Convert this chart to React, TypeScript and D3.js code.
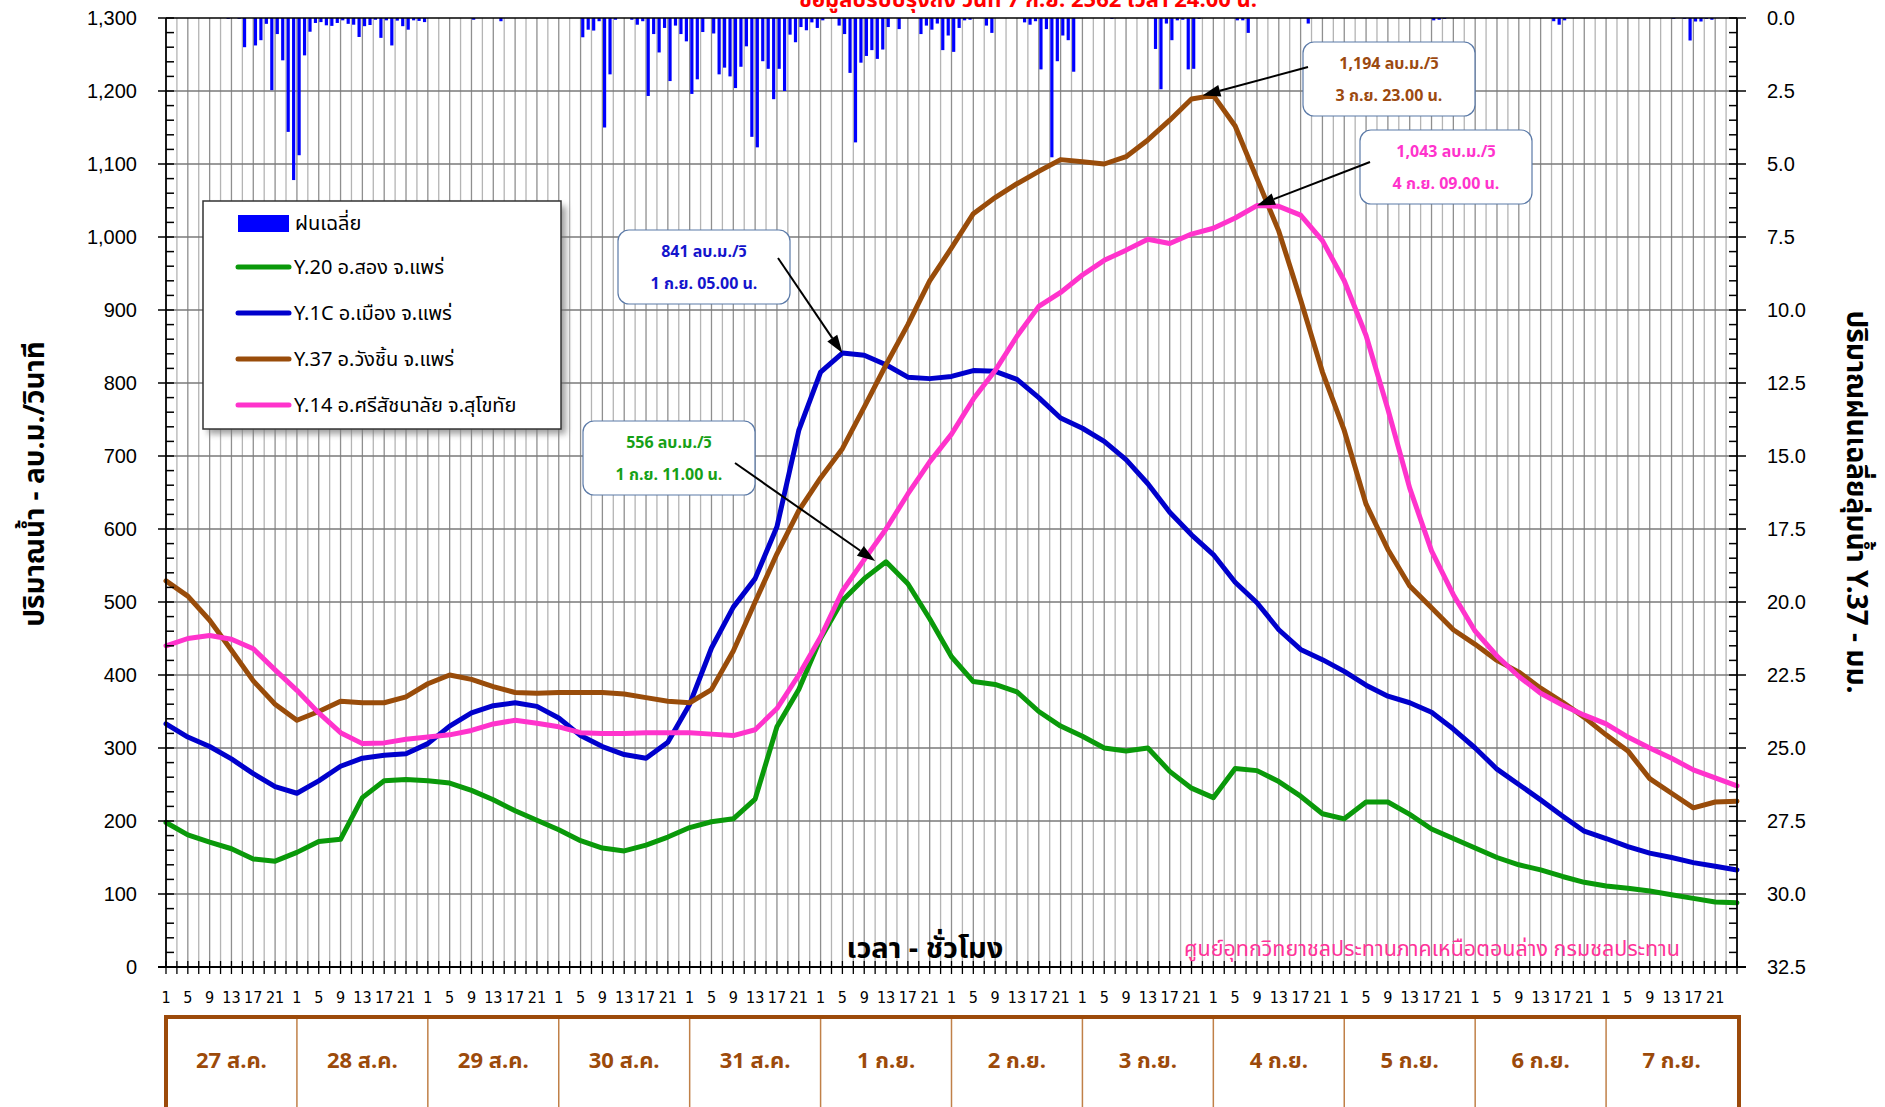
import React, { useEffect, useRef } from "react";
import * as d3 from "d3";

const WIDTH = 1885;
const HEIGHT = 1107;
const LEFT = 166;
const RIGHT = 1737;
const TOP = 18;
const BOTTOM = 967;

const THAI = "Tahoma, 'Noto Sans Thai', 'Leelawadee UI', 'Noto Sans', sans-serif";
const NARROW = "'Liberation Sans Narrow', 'Arial Narrow', 'DejaVu Sans Condensed', sans-serif";
const ARIAL = "'Liberation Sans', Arial, sans-serif";

const days = [
  "27 ส.ค.", "28 ส.ค.", "29 ส.ค.", "30 ส.ค.", "31 ส.ค.", "1 ก.ย.",
  "2 ก.ย.", "3 ก.ย.", "4 ก.ย.", "5 ก.ย.", "6 ก.ย.", "7 ก.ย.",
];
const hourTicks = [1, 5, 9, 13, 17, 21];

// flow (ลบ.ม./วิ) read every 4 hours from 27 ส.ค. 01.00 น.
const readEvery = 4;

const y20 = [
  198, 181, 171, 162, 148, 145, 157, 172, 175, 232,
  255, 257, 255, 252, 242, 229, 214, 201, 188, 173,
  163, 159, 167, 178, 191, 199, 203, 230, 329, 380,
  450, 502, 532, 555, 525, 477, 425, 391, 387, 377,
  350, 330, 316, 300, 296, 300, 268, 245, 232, 272,
  269, 254, 234, 210, 203, 226, 226, 209, 189, 176,
  163, 150, 140, 133, 124, 116, 111, 108, 104, 99,
  94, 89, 88,
];

const y1c = [
  333, 315, 302, 285, 265, 247, 238, 255, 275, 286,
  290, 292, 306, 330, 348, 358, 362, 357, 341, 317,
  302, 291, 286, 308, 360, 437, 493, 532, 603, 735,
  815, 841, 838, 825, 808, 806, 809, 817, 816, 805,
  780, 752, 738, 720, 695, 662, 623, 592, 565, 527,
  499, 462, 435, 421, 405, 386, 371, 362, 349, 326,
  300, 271, 250, 229, 207, 186, 176, 165, 156, 150,
  143, 138, 133,
];

const y37 = [
  529, 508, 475, 434, 392, 360, 338, 350, 364, 362,
  362, 370, 388, 400, 394, 384, 376, 375, 376, 376,
  376, 374, 369, 364, 362, 380, 433, 500, 566, 625,
  670, 710, 767, 825, 880, 940, 985, 1032, 1054, 1073,
  1090, 1106, 1103, 1100, 1110, 1133, 1160, 1189, 1194, 1152,
  1080, 1008, 914, 815, 735, 634, 572, 522, 492, 462,
  442, 420, 404, 382, 363, 342, 318, 296, 258, 238,
  218, 226, 227,
];

const y14 = [
  440, 450, 454, 449, 436, 407, 379, 348, 321, 306,
  307, 312, 315, 318, 324, 333, 338, 334, 329, 321,
  320, 320, 321, 321, 321, 319, 317, 325, 354, 400,
  452, 515, 558, 600, 648, 692, 730, 778, 817, 864,
  905, 924, 948, 968, 982, 997, 991, 1004, 1012, 1026,
  1043, 1042, 1030, 995, 940, 865, 764, 656, 570, 510,
  460, 426, 398, 375, 359, 345, 333, 315, 300, 286,
  270, 259, 248,
];

// average basin rainfall (มม.): [hour from 27 ส.ค. 01.00 น., mm]
const rainfall: [number, number][] = [
  [11, 0.03], [13, 0.03], [14, 1.0], [16, 0.94], [17, 0.76], [18, 0.2], [19, 2.47],
  [20, 0.55], [21, 1.45], [22, 3.9], [23, 5.55], [24, 4.7], [25, 1.28], [26, 0.47],
  [27, 0.17], [28, 0.14], [29, 0.25], [30, 0.27], [31, 0.17], [32, 0.08], [33, 0.2],
  [34, 0.23], [35, 0.65], [36, 0.28], [37, 0.24], [38, 0.06], [39, 0.68], [40, 0.08],
  [41, 0.94], [42, 0.09], [43, 0.28], [44, 0.4], [45, 0.08], [46, 0.1], [47, 0.14],
  [56, 0.06], [61, 0.11], [76, 0.66], [77, 0.4], [78, 0.43], [79, 0.11], [80, 3.75],
  [81, 1.93], [82, 0.06], [85, 0.06], [86, 0.23], [87, 0.11], [88, 2.67], [89, 0.55],
  [90, 1.18], [91, 0.34], [92, 2.16], [93, 0.26], [94, 0.55], [95, 0.8], [96, 2.6],
  [97, 2.1], [98, 0.48], [100, 0.53], [101, 1.93], [102, 1.7], [103, 2.0], [104, 2.4],
  [105, 1.67], [106, 0.97], [107, 4.07], [108, 4.43], [109, 1.48], [110, 1.74], [111, 2.78],
  [112, 1.74], [113, 2.5], [114, 0.57], [115, 0.83], [116, 0.31], [117, 0.42], [118, 0.15],
  [119, 0.34], [120, 0.08], [123, 0.26], [124, 0.55], [125, 1.88], [126, 4.26], [127, 1.53],
  [128, 1.3], [129, 1.1], [130, 1.4], [131, 1.08], [132, 0.31], [134, 0.38], [138, 0.55],
  [139, 0.26], [140, 0.4], [141, 0.19], [142, 1.1], [143, 0.6], [144, 1.16], [145, 0.34],
  [146, 0.08], [147, 0.06], [150, 0.26], [151, 0.51], [157, 0.15], [158, 0.23], [159, 0.11],
  [160, 1.76], [161, 0.38], [162, 4.77], [163, 1.48], [164, 0.6], [165, 0.76], [166, 1.84],
  [173, 0.03], [181, 1.06], [182, 2.44], [183, 0.19], [184, 0.76], [185, 0.08], [186, 0.06],
  [187, 1.76], [188, 1.74], [189, 0.03], [196, 0.08], [197, 0.08], [198, 0.51], [209, 0.19],
  [232, 0.08], [233, 0.06], [234, 0.03], [254, 0.11], [255, 0.23], [256, 0.08], [276, 0.03],
  [278, 0.03], [279, 0.77], [280, 0.12], [281, 0.12], [282, 0.03], [283, 0.06],
];

const stations = [
  { name: "Y.20 อ.สอง จ.แพร่", color: "#0A990A", values: y20 },
  { name: "Y.1C อ.เมือง จ.แพร่", color: "#0000CC", values: y1c },
  { name: "Y.37 อ.วังชิ้น จ.แพร่", color: "#994C0A", values: y37 },
  { name: "Y.14 อ.ศรีสัชนาลัย จ.สุโขทัย", color: "#FF33CC", values: y14 },
];

// peak callouts: hour from 27 ส.ค. 01.00 น.
const peaks = [
  { hour: 124, flow: 841, label: "841 ลบ.ม./วิ", time: "1 ก.ย. 05.00 น.", color: "#1414CC", box: [618, 230], tail: [778, 258] },
  { hour: 130, flow: 556, label: "556 ลบ.ม./วิ", time: "1 ก.ย.  11.00 น.", color: "#16A016", box: [583, 421], tail: [735, 463] },
  { hour: 190, flow: 1194, label: "1,194 ลบ.ม./วิ", time: "3 ก.ย. 23.00 น.", color: "#9C4A10", box: [1303, 42], tail: [1308, 67] },
  { hour: 200, flow: 1043, label: "1,043 ลบ.ม./วิ", time: "4 ก.ย. 09.00 น.", color: "#FF33CC", box: [1360, 130], tail: [1370, 162] },
];

export default function App() {
  const ref = useRef<SVGSVGElement>(null);

  useEffect(() => {
    if (!ref.current) return;
    const svg = d3.select(ref.current);
    svg.selectAll("*").remove();

    const x = d3.scaleLinear().domain([0, 288]).range([LEFT, RIGHT]);
    const y = d3.scaleLinear().domain([0, 1300]).range([BOTTOM, TOP]);
    const rain = d3.scaleLinear().domain([0, 32.5]).range([TOP, BOTTOM]);

    svg.append("rect").attr("width", WIDTH).attr("height", HEIGHT).attr("fill", "#fff");

    const filter = svg.append("defs").append("filter").attr("id", "shadow")
      .attr("x", "-10%").attr("y", "-10%").attr("width", "130%").attr("height", "130%");
    filter.append("feGaussianBlur").attr("stdDeviation", 3);

    // grid
    const grid = svg.append("g");
    grid.selectAll(".vgrid")
      .data(d3.range(2, 288, 2))
      .join("line")
      .attr("class", "vgrid")
      .attr("x1", (d) => x(d)).attr("x2", (d) => x(d))
      .attr("y1", TOP).attr("y2", BOTTOM)
      .attr("stroke", (d) => (d % 4 === 0 ? "#8f8f8f" : "#b4b4b4"))
      .attr("stroke-width", 1.3);
    grid.selectAll(".hgrid")
      .data(d3.range(100, 1300, 100))
      .join("line")
      .attr("class", "hgrid")
      .attr("x1", LEFT).attr("x2", RIGHT)
      .attr("y1", (d) => y(d)).attr("y2", (d) => y(d))
      .attr("stroke", "#7a7a7a")
      .attr("stroke-width", 1.6);

    // rain bars hanging from the top
    svg.append("g")
      .selectAll("rect")
      .data(rainfall)
      .join("rect")
      .attr("x", (d) => x(d[0] + 0.4) - 1.6)
      .attr("width", 3.2)
      .attr("y", TOP)
      .attr("height", (d) => rain(d[1]) - TOP)
      .attr("fill", "#0000FF");

    // flow lines
    const line = d3.line<number>()
      .x((_, i) => x(i * readEvery))
      .y((d) => y(d));
    svg.append("g")
      .selectAll("path")
      .data(stations)
      .join("path")
      .attr("d", (d) => line(d.values))
      .attr("fill", "none")
      .attr("stroke", (d) => d.color)
      .attr("stroke-width", 5)
      .attr("stroke-linejoin", "round")
      .attr("stroke-linecap", "round");

    // axes
    const axes = svg.append("g").attr("stroke", "#000");
    axes.append("line").attr("x1", LEFT).attr("x2", RIGHT).attr("y1", TOP).attr("y2", TOP).attr("stroke-width", 1.5);
    axes.append("line").attr("x1", LEFT).attr("x2", LEFT).attr("y1", TOP).attr("y2", BOTTOM).attr("stroke-width", 1.8);
    axes.append("line").attr("x1", RIGHT).attr("x2", RIGHT).attr("y1", TOP).attr("y2", BOTTOM).attr("stroke-width", 1.8);
    axes.append("line").attr("x1", LEFT - 8).attr("x2", RIGHT + 9).attr("y1", BOTTOM).attr("y2", BOTTOM).attr("stroke-width", 2);

    axes.selectAll(".lminor")
      .data(d3.range(0, 1301, 20))
      .join("line")
      .attr("class", "lminor")
      .attr("x1", (d) => (d % 100 === 0 ? LEFT - 8 : LEFT)).attr("x2", LEFT + 8)
      .attr("y1", (d) => y(d)).attr("y2", (d) => y(d))
      .attr("stroke-width", 1.5);
    axes.selectAll(".rminor")
      .data(d3.range(0, 32.51, 0.5))
      .join("line")
      .attr("class", "rminor")
      .attr("x1", RIGHT - 8).attr("x2", (_, i) => (i % 5 === 0 ? RIGHT + 9 : RIGHT))
      .attr("y1", (d) => rain(d)).attr("y2", (d) => rain(d))
      .attr("stroke-width", 1.5);
    axes.selectAll(".xtick")
      .data(d3.range(0, 289, 2))
      .join("line")
      .attr("class", "xtick")
      .attr("x1", (d) => x(d)).attr("x2", (d) => x(d))
      .attr("y1", BOTTOM - 6).attr("y2", BOTTOM + 7)
      .attr("stroke-width", 1.3);

    svg.append("g")
      .selectAll("text")
      .data(d3.range(0, 1301, 100))
      .join("text")
      .attr("x", LEFT - 29)
      .attr("y", (d) => y(d))
      .attr("dy", "0.35em")
      .attr("text-anchor", "end")
      .attr("font-family", ARIAL)
      .attr("font-size", 20)
      .text((d) => d3.format(",")(d));

    svg.append("g")
      .selectAll("text")
      .data(d3.range(0, 32.51, 2.5))
      .join("text")
      .attr("x", RIGHT + 30)
      .attr("y", (d) => rain(d))
      .attr("dy", "0.35em")
      .attr("font-family", ARIAL)
      .attr("font-size", 20)
      .text((d) => d3.format(".1f")(d));

    // hour labels
    const hourLabels = days.flatMap((_, d) => hourTicks.map((hr) => ({ hr, at: d * 24 + hr - 1 })));
    svg.append("g")
      .selectAll("text")
      .data(hourLabels)
      .join("text")
      .attr("x", (d) => x(d.at))
      .attr("y", 997)
      .attr("dy", "0.35em")
      .attr("text-anchor", "middle")
      .attr("font-family", NARROW)
      .attr("font-size", 16)
      .text((d) => d.hr);

    // day boxes
    const dayBox = svg.append("g");
    dayBox.selectAll("line")
      .data(d3.range(1, days.length))
      .join("line")
      .attr("x1", (d) => x(d * 24)).attr("x2", (d) => x(d * 24))
      .attr("y1", 1017).attr("y2", HEIGHT + 5)
      .attr("stroke", "#C08048")
      .attr("stroke-width", 1.5);
    dayBox.append("path")
      .attr("d", `M${LEFT},${HEIGHT + 5}V1017H${RIGHT + 2}V${HEIGHT + 5}`)
      .attr("fill", "none")
      .attr("stroke", "#9C4A0A")
      .attr("stroke-width", 4);
    dayBox.selectAll("text")
      .data(days)
      .join("text")
      .attr("x", (_, d) => x(d * 24 + 12))
      .attr("y", 1060)
      .attr("dy", "0.35em")
      .attr("text-anchor", "middle")
      .attr("font-family", THAI)
      .attr("font-weight", 700)
      .attr("font-size", 22)
      .attr("fill", "#9C4A0A")
      .text((d) => d);

    // legend
    const legend = svg.append("g").attr("transform", "translate(203 201)");
    legend.append("rect")
      .attr("x", 5).attr("y", 5).attr("width", 358).attr("height", 228)
      .attr("fill", "#777").attr("opacity", 0.7).attr("filter", "url(#shadow)");
    legend.append("rect")
      .attr("width", 358).attr("height", 228)
      .attr("fill", "#fff").attr("stroke", "#333").attr("stroke-width", 1.5);
    legend.append("rect")
      .attr("x", 35).attr("y", 14).attr("width", 51).attr("height", 17).attr("fill", "#0000FF");
    legend.append("text")
      .attr("x", 92).attr("y", 22).attr("dy", "0.35em")
      .attr("font-family", THAI).attr("font-size", 20)
      .text("ฝนเฉลี่ย");
    const items = legend.selectAll(".item")
      .data(stations)
      .join("g")
      .attr("class", "item")
      .attr("transform", (_, i) => `translate(0 ${66 + i * 46})`);
    items.append("line")
      .attr("x1", 35).attr("x2", 86)
      .attr("stroke", (d) => d.color)
      .attr("stroke-width", 5)
      .attr("stroke-linecap", "round");
    items.append("text")
      .attr("x", 91).attr("dy", "0.35em")
      .attr("font-family", THAI).attr("font-size", 20)
      .text((d) => d.name);

    // peak callouts
    const callouts = svg.append("g")
      .selectAll("g")
      .data(peaks)
      .join("g");
    callouts.append("rect")
      .attr("x", (d) => d.box[0]).attr("y", (d) => d.box[1])
      .attr("width", 172).attr("height", 74).attr("rx", 11)
      .attr("fill", "#fff").attr("stroke", "#5B7AA8").attr("stroke-width", 1.2);
    callouts.append("text")
      .attr("x", (d) => d.box[0] + 86).attr("y", (d) => d.box[1] + 21)
      .attr("dy", "0.35em").attr("text-anchor", "middle")
      .attr("font-family", THAI).attr("font-weight", 700).attr("font-size", 16)
      .attr("fill", (d) => d.color)
      .text((d) => d.label);
    callouts.append("text")
      .attr("x", (d) => d.box[0] + 86).attr("y", (d) => d.box[1] + 53)
      .attr("dy", "0.35em").attr("text-anchor", "middle")
      .attr("font-family", THAI).attr("font-weight", 700).attr("font-size", 16)
      .attr("fill", (d) => d.color)
      .text((d) => d.time);

    callouts.each(function (d) {
      const g = d3.select(this);
      const tx = x(d.hour);
      const ty = y(d.flow);
      const [sx, sy] = d.tail;
      const len = Math.hypot(tx - sx, ty - sy);
      const ux = (tx - sx) / len;
      const uy = (ty - sy) / len;
      const bx = tx - ux * 18;
      const by = ty - uy * 18;
      g.append("line")
        .attr("x1", sx).attr("y1", sy).attr("x2", bx).attr("y2", by)
        .attr("stroke", "#000").attr("stroke-width", 2);
      g.append("path")
        .attr("d", `M${tx},${ty}L${bx - uy * 6},${by + ux * 6}L${bx + uy * 6},${by - ux * 6}Z`)
        .attr("fill", "#000");
    });

    // titles
    svg.append("text")
      .attr("x", 1028).attr("y", 7)
      .attr("text-anchor", "middle")
      .attr("font-family", THAI).attr("font-weight", 700).attr("font-size", 22)
      .attr("fill", "#FF0000")
      .text("ข้อมูลปรับปรุงถึง วันที่ 7 ก.ย. 2562 เวลา 24.00 น.");
    svg.append("text")
      .attr("transform", "translate(34 484) rotate(-90)")
      .attr("text-anchor", "middle").attr("dy", "0.35em")
      .attr("font-family", THAI).attr("font-weight", 700).attr("font-size", 28)
      .text("ปริมาณน้ำ - ลบ.ม./วินาที");
    svg.append("text")
      .attr("transform", "translate(1857 502) rotate(90)")
      .attr("text-anchor", "middle").attr("dy", "0.35em")
      .attr("font-family", THAI).attr("font-weight", 700).attr("font-size", 28)
      .text("ปริมาณฝนเฉลี่ยลุ่มน้ำ Y.37 - มม.");
    svg.append("text")
      .attr("x", 925).attr("y", 958)
      .attr("text-anchor", "middle")
      .attr("font-family", THAI).attr("font-weight", 700).attr("font-size", 29)
      .text("เวลา - ชั่วโมง");
    svg.append("text")
      .attr("x", 1184).attr("y", 956)
      .attr("font-family", THAI).attr("font-size", 21.5)
      .attr("fill", "#FF3399")
      .text("ศูนย์อุทกวิทยาชลประทานภาคเหนือตอนล่าง  กรมชลประทาน");
  }, []);

  return (
    <svg
      ref={ref}
      width={WIDTH}
      height={HEIGHT}
      style={{ position: "absolute", left: 0, top: 0, display: "block" }}
    />
  );
}
